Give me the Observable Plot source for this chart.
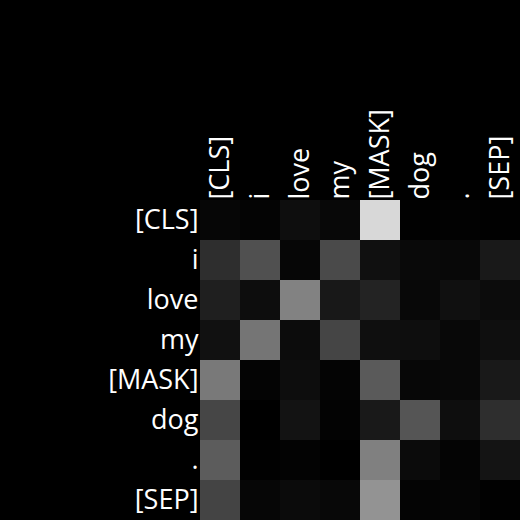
<!DOCTYPE html>
<html>
<head>
<meta charset="utf-8">
<script src="https://cdn.jsdelivr.net/npm/d3@7"></script>
<script src="https://cdn.jsdelivr.net/npm/@observablehq/plot@0.6"></script>
<style>
  html, body { margin: 0; padding: 0; background: #000; }
  #chart svg { display: block; }
</style>
</head>
<body>
<div id="chart"></div>
<script>
const tokens = ["[CLS]", "i", "love", "my", "[MASK]", "dog", ".", "[SEP]"];
// attention weights, rows = query token, columns = key token
const rowCLS  = [0.024, 0.016, 0.055, 0.031, 0.847, 0.004, 0.008, 0.004];
const rowI    = [0.180, 0.314, 0.024, 0.290, 0.063, 0.035, 0.031, 0.098];
const rowLove = [0.122, 0.051, 0.510, 0.094, 0.137, 0.031, 0.063, 0.047];
const rowMy   = [0.067, 0.459, 0.047, 0.271, 0.059, 0.055, 0.031, 0.059];
const rowMask = [0.475, 0.016, 0.051, 0.016, 0.353, 0.027, 0.031, 0.098];
const rowDog  = [0.275, 0.000, 0.075, 0.012, 0.098, 0.333, 0.055, 0.180];
const rowDot  = [0.361, 0.004, 0.012, 0.000, 0.502, 0.043, 0.016, 0.078];
const rowSEP  = [0.267, 0.024, 0.043, 0.031, 0.576, 0.016, 0.020, 0.004];
const rows = [rowCLS, rowI, rowLove, rowMy, rowMask, rowDog, rowDot, rowSEP];

const data = [];
rows.forEach((r, i) => r.forEach((v, j) => data.push({q: tokens[i], k: tokens[j], w: v})));

const chart = Plot.plot({
  width: 520,
  height: 520,
  marginTop: 200,
  marginLeft: 200,
  marginRight: 0,
  marginBottom: 0,
  style: {background: "#000", color: "#fff", fontFamily: "'Open Sans', sans-serif", fontSize: "27px"},
  x: {domain: tokens, axis: "top", tickRotate: -90, tickSize: 0, tickPadding: 1, label: null, padding: 0},
  y: {domain: tokens, tickSize: 0, tickPadding: 2, label: null, padding: 0},
  color: {type: "linear", domain: [0, 1], range: ["#000", "#fff"], interpolate: "rgb"},
  marks: [
    Plot.cell(data, {x: "k", y: "q", fill: "w", inset: 0})
  ]
});
document.getElementById("chart").appendChild(chart);
</script>
</body>
</html>
